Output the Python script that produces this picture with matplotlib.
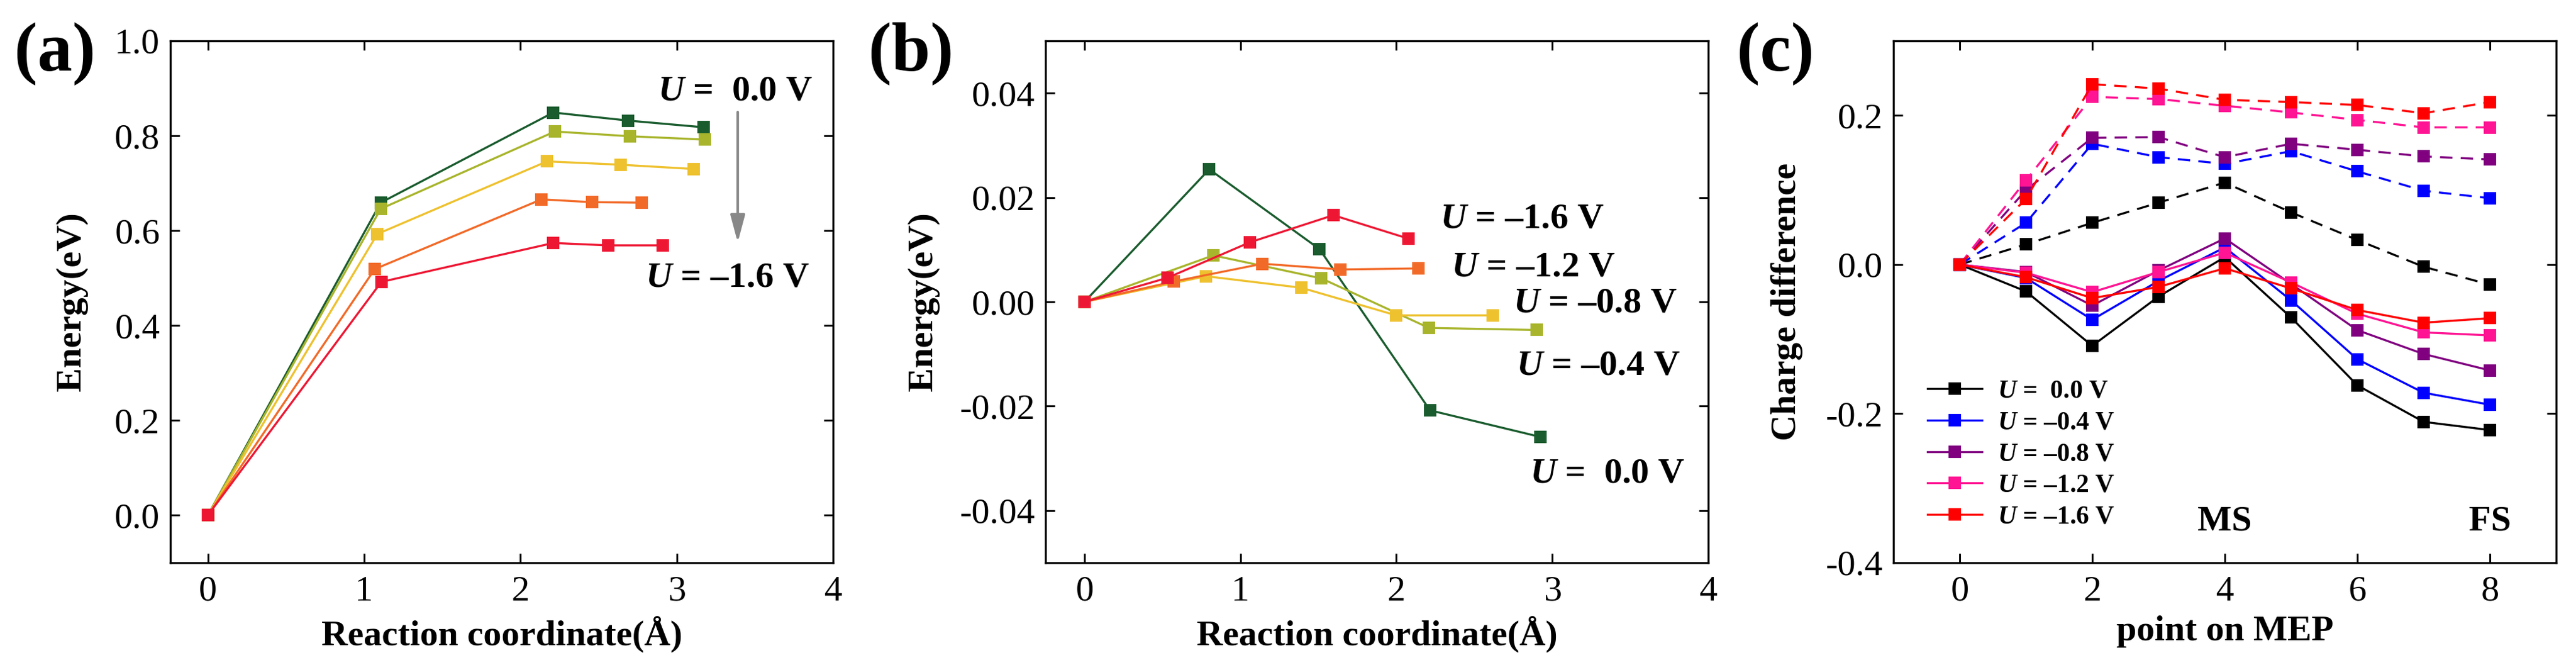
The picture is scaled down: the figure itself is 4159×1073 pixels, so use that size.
import matplotlib
matplotlib.use("Agg")
import matplotlib.pyplot as plt
from matplotlib.ticker import FormatStrFormatter

plt.rcParams['font.family'] = ['Liberation Serif', 'DejaVu Serif']
plt.rcParams['mathtext.fontset'] = 'custom'
plt.rcParams['mathtext.it'] = 'Liberation Serif:italic:bold'
plt.rcParams['mathtext.rm'] = 'Liberation Serif:bold'
plt.rcParams['lines.scale_dashes'] = False

# potentials and labels
labels = [r"$\mathit{U}$ =  0.0 V", r"$\mathit{U}$ = –0.4 V", r"$\mathit{U}$ = –0.8 V",
          r"$\mathit{U}$ = –1.2 V", r"$\mathit{U}$ = –1.6 V"]

# (a) energy profiles
a_x_00 = [0, 1.106, 2.21, 2.69, 3.17]
a_y_00 = [0, 0.659, 0.849, 0.832, 0.818]
a_x_04 = [0, 1.106, 2.22, 2.70, 3.18]
a_y_04 = [0, 0.646, 0.809, 0.799, 0.792]
a_x_08 = [0, 1.085, 2.17, 2.64, 3.11]
a_y_08 = [0, 0.593, 0.746, 0.739, 0.730]
a_x_12 = [0, 1.068, 2.135, 2.457, 2.776]
a_y_12 = [0, 0.519, 0.666, 0.660, 0.659]
a_x_16 = [0, 1.11, 2.21, 2.56, 2.91]
a_y_16 = [0, 0.492, 0.574, 0.569, 0.569]

# (b) energy profiles
b_x_00 = [0, 0.80, 1.507, 2.216, 2.925]
b_y_00 = [0, 0.0254, 0.0101, -0.0208, -0.0259]
b_x_04 = [0, 0.826, 1.518, 2.209, 2.90]
b_y_04 = [0, 0.0089, 0.0045, -0.0050, -0.0054]
b_x_08 = [0, 0.78, 1.39, 2.0, 2.617]
b_y_08 = [0, 0.0049, 0.0027, -0.0026, -0.0026]
b_x_12 = [0, 0.574, 1.142, 1.642, 2.142]
b_y_12 = [0, 0.0039, 0.0073, 0.0062, 0.0064]
b_x_16 = [0, 0.532, 1.06, 1.596, 2.078]
b_y_16 = [0, 0.0046, 0.0114, 0.0166, 0.0121]

# (c) charge difference along MEP
mep = [0, 1, 2, 3, 4, 5, 6, 7, 8]
c_solid_00 = [0, -0.036, -0.109, -0.043, 0.010, -0.071, -0.162, -0.211, -0.222]
c_solid_04 = [0, -0.018, -0.074, -0.022, 0.023, -0.048, -0.127, -0.172, -0.188]
c_solid_08 = [0, -0.010, -0.055, -0.008, 0.035, -0.026, -0.088, -0.120, -0.142]
c_solid_12 = [0, -0.011, -0.037, -0.010, 0.016, -0.024, -0.066, -0.091, -0.095]
c_solid_16 = [0, -0.017, -0.045, -0.030, -0.005, -0.032, -0.061, -0.078, -0.072]
c_dash_00 = [0, 0.027, 0.056, 0.083, 0.110, 0.070, 0.033, -0.003, -0.027]
c_dash_04 = [0, 0.056, 0.162, 0.144, 0.135, 0.152, 0.125, 0.099, 0.089]
c_dash_08 = [0, 0.100, 0.170, 0.171, 0.144, 0.162, 0.154, 0.145, 0.141]
c_dash_12 = [0, 0.113, 0.225, 0.222, 0.213, 0.204, 0.194, 0.184, 0.184]
c_dash_16 = [0, 0.088, 0.242, 0.236, 0.221, 0.218, 0.214, 0.203, 0.218]

ab_colors = ['#1a5c2e', '#a8b52c', '#eec12e', '#f26a28', '#ee1733']
c_colors = ['#000000', '#0000ff', '#800080', '#ff1493', '#ff0000']

fig = plt.figure(figsize=(4159 / 300, 1073 / 300), dpi=300)
W, H = 4159, 1073
axes = []
for left in [275, 1688, 3057]:
    axes.append(fig.add_axes([left / W, 1 - 908 / H, 1070 / W, 842 / H]))
ax_a, ax_b, ax_c = axes

for ax in axes:
    ax.tick_params(direction='in', top=True, right=True, length=3.5, width=0.7,
                   labelsize=14, pad=5)
    ax.tick_params(axis='y', pad=4)
    for s in ax.spines.values():
        s.set_linewidth(0.8)

lw, ms = 0.8, 4

# ---- (a)
for xs, ys, c in zip([a_x_00, a_x_04, a_x_08, a_x_12, a_x_16],
                     [a_y_00, a_y_04, a_y_08, a_y_12, a_y_16], ab_colors):
    ax_a.plot(xs, ys, '-s', color=c, lw=lw, ms=ms)
ax_a.set_xlim(-0.24, 4)
ax_a.set_ylim(-0.1, 1.0)
ax_a.set_xticks([0, 1, 2, 3, 4])
ax_a.set_yticks([0, 0.2, 0.4, 0.6, 0.8, 1.0])
ax_a.yaxis.set_major_formatter(FormatStrFormatter('%.1f'))
ax_a.text(2.88, 0.894, labels[0], fontsize=14, fontweight='bold', va='center')
ax_a.text(2.80, 0.50, labels[4], fontsize=14, fontweight='bold', va='center')
ax_a.annotate('', xy=(3.39, 0.575), xytext=(3.39, 0.85),
              arrowprops=dict(arrowstyle='-|>,head_width=0.12,head_length=0.45',
                              color='#888888', lw=1.0, mutation_scale=20,
                              shrinkA=0, shrinkB=0))

# ---- (b)
for xs, ys, c in zip([b_x_00, b_x_04, b_x_08, b_x_12, b_x_16],
                     [b_y_00, b_y_04, b_y_08, b_y_12, b_y_16], ab_colors):
    ax_b.plot(xs, ys, '-s', color=c, lw=lw, ms=ms)
ax_b.set_xlim(-0.25, 4)
ax_b.set_ylim(-0.05, 0.05)
ax_b.set_xticks([0, 1, 2, 3, 4])
ax_b.set_yticks([-0.04, -0.02, 0, 0.02, 0.04])
ax_b.yaxis.set_major_formatter(FormatStrFormatter('%.2f'))
b_text_pos = [(2.856, -0.033), (2.77, -0.0123), (2.75, -0.0003), (2.35, 0.0066), (2.28, 0.0158)]
for (tx, ty), lab in zip(b_text_pos, labels):
    ax_b.text(tx, ty, lab, fontsize=14, fontweight='bold', va='center')

# ---- (c)
for ys, c in zip([c_dash_00, c_dash_04, c_dash_08, c_dash_12, c_dash_16], c_colors):
    ax_c.plot(mep, ys, 's', color=c, ls=(0, (4.8, 3.2)), lw=lw, ms=ms)
for ys, c, lab in zip([c_solid_00, c_solid_04, c_solid_08, c_solid_12, c_solid_16],
                      c_colors, labels):
    ax_c.plot(mep, ys, '-s', color=c, lw=lw, ms=ms, label=lab)
ax_c.set_xlim(-1, 9)
ax_c.set_ylim(-0.4, 0.3)
ax_c.set_xticks([0, 2, 4, 6, 8])
ax_c.set_yticks([-0.4, -0.2, 0.0, 0.2])
ax_c.yaxis.set_major_formatter(FormatStrFormatter('%.1f'))
ax_c.text(4, -0.345, 'MS', fontsize=14, fontweight='bold', ha='center', va='center')
ax_c.text(8, -0.345, 'FS', fontsize=14, fontweight='bold', ha='center', va='center')
leg = ax_c.legend(loc='lower left', bbox_to_anchor=(0.036, 0.045), borderaxespad=0,
                  frameon=False, prop={'size': 10, 'weight': 'bold'},
                  handlelength=2.1, labelspacing=0.3, handletextpad=0.6)

# axis labels
ax_a.set_xlabel('Reaction coordinate(Å)', fontsize=14, fontweight='bold', labelpad=3)
ax_b.set_xlabel('Reaction coordinate(Å)', fontsize=14, fontweight='bold', labelpad=3)
ax_c.set_xlabel('point on MEP', fontsize=14, fontweight='bold', labelpad=3)
ax_a.set_ylabel('Energy(eV)', fontsize=14, fontweight='bold', va='center')
ax_b.set_ylabel('Energy(eV)', fontsize=14, fontweight='bold', va='center')
ax_c.set_ylabel('Charge difference', fontsize=14, fontweight='bold', va='center')
ax_a.yaxis.set_label_coords(-0.149, 0.5)
ax_b.yaxis.set_label_coords(-0.184, 0.5)
ax_c.yaxis.set_label_coords(-0.161, 0.5)

# panel letters
for px, letter in zip([23, 1402, 2804], ['(a)', '(b)', '(c)']):
    fig.text(px / W, 1 - 86 / H, letter, fontsize=27, fontweight='bold', ha='left', va='center')

fig.savefig('out.png', dpi=300)
